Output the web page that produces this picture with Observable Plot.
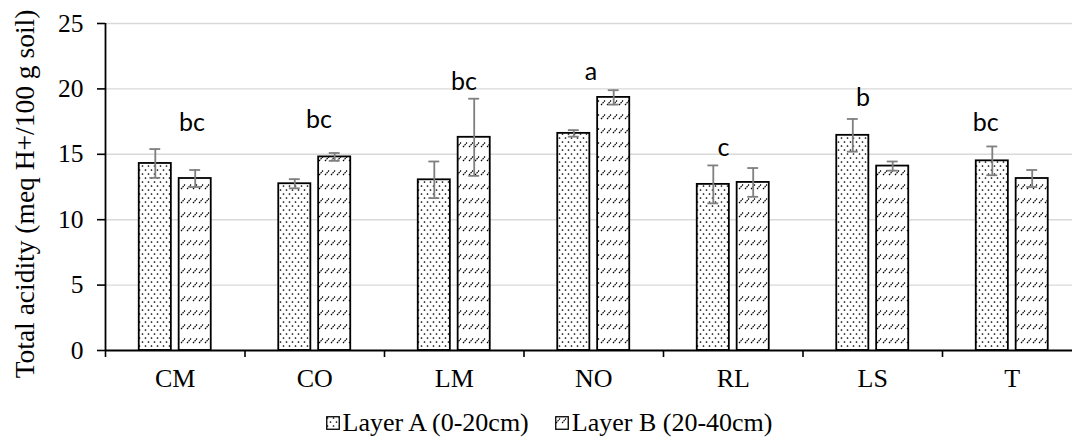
<!DOCTYPE html>
<html><head><meta charset="utf-8">
<script src="https://cdn.jsdelivr.net/npm/d3@7"></script>
<script src="https://cdn.jsdelivr.net/npm/@observablehq/plot@0.6"></script>
<style>
body{margin:0;background:#fff;width:1072px;height:439px;overflow:hidden;}
#legend{display:flex;justify-content:center;align-items:center;font-family:"Liberation Serif","Times New Roman",serif;font-size:26px;line-height:30px;color:#000;padding-left:26px;height:32px;margin-top:9px;}
.item{display:flex;align-items:center;margin:0 13px;}
.item svg{margin-right:3px;}
</style></head><body>
<svg width="0" height="0" style="position:absolute">
  <defs>
    <pattern id="pat-dots" patternUnits="userSpaceOnUse" width="6" height="8">
      <rect width="6" height="8" fill="#fff"/>
      <circle cx="1.5" cy="2" r="0.85" fill="#000"/>
      <circle cx="4.5" cy="6" r="0.85" fill="#000"/>
    </pattern>
    <pattern id="pat-hatch" patternUnits="userSpaceOnUse" width="6" height="14">
      <rect width="6" height="14" fill="#fff"/>
      <line x1="1" y1="7" x2="5" y2="2.5" stroke="#000" stroke-width="1.2" stroke-dasharray="1.6 0.7"/>
    </pattern>
  </defs>
</svg>
<div id="chart"></div>
<div id="legend"></div>
<script>
const categories = ["CM","CO","LM","NO","RL","LS","T"];
const layerNames = ["Layer A (0-20cm)", "Layer B (20-40cm)"];
const layerA = [14.3, 12.75, 13.05, 16.6, 12.7, 16.45, 14.5];
const errA   = [1.1, 0.35, 1.4, 0.25, 1.45, 1.25, 1.1];
const layerB = [13.15, 14.8, 16.3, 19.35, 12.85, 14.1, 13.15];
const errB   = [0.65, 0.3, 2.95, 0.55, 1.1, 0.35, 0.65];
const letters = ["bc","bc","bc","a","c","b","bc"];
const letterX = [0.62, 1.53, 2.57, 3.48, 4.43, 5.43, 6.31];
const letterY = [17.4, 17.6, 20.5, 21.3, 15.5, 19.3, 17.4];
const yTicks = [0,5,10,15,20,25];
const yTitle = "Total acidity (meq H+/100 g soil)";

const serif = "'Liberation Serif','Times New Roman',serif";
const fills = ["url(#pat-dots)", "url(#pat-hatch)"];
const centerOff = [0.357, 0.643];
const halfW = 0.115, capHalf = 0.039;

const rows = [];
categories.forEach((c, i) => {
  [layerA, layerB].forEach((arr, j) => {
    const e = j === 0 ? errA[i] : errB[i];
    rows.push({cat: c, i, layer: j, value: arr[i], err: e, c: i + centerOff[j]});
  });
});

const chart = Plot.plot({
  width: 1072, height: 398,
  marginLeft: 105, marginRight: -9.5, marginTop: 23, marginBottom: 48,
  x: {domain: [0, 7]},
  y: {domain: [0, 25]},
  style: {fontFamily: serif, fontSize: "25px", color: "#000", background: "#fff"},
  marks: [
    Plot.ruleY(yTicks.filter(d => d > 0), {stroke: "#d9d9d9", strokeWidth: 1.4}),
    Plot.axisY({ticks: yTicks, tickSize: 8, tickPadding: 14, label: null, tickFormat: d => String(d), strokeWidth: 1.6, fontFamily: serif, fontSize: 25.5}),
    Plot.axisX({ticks: d3.range(8), tickSize: 7, tickFormat: () => "", label: null, strokeWidth: 1.6}),
    Plot.axisX({ticks: categories.map((c, i) => i + 0.5), tickSize: 0, tickPadding: 18, tickFormat: v => categories[Math.floor(v)], label: null, fontFamily: serif, fontSize: 26}),
    Plot.rectY(rows, {x1: d => d.c - halfW, x2: d => d.c + halfW, y1: 0, y2: "value", fill: d => fills[d.layer], stroke: "#000", strokeWidth: 1.8}),
    Plot.ruleX(rows, {x: "c", y1: d => d.value - d.err, y2: d => d.value + d.err, stroke: "#7f7f7f", strokeWidth: 1.8}),
    Plot.ruleY(rows, {y: d => d.value + d.err, x1: d => d.c - capHalf, x2: d => d.c + capHalf, stroke: "#7f7f7f", strokeWidth: 1.8}),
    Plot.ruleY(rows, {y: d => d.value - d.err, x1: d => d.c - capHalf, x2: d => d.c + capHalf, stroke: "#7f7f7f", strokeWidth: 1.8}),
    Plot.ruleY([0], {stroke: "#000", strokeWidth: 1.8}),
    Plot.ruleX([0], {stroke: "#000", strokeWidth: 1.8}),
    Plot.text(letters, {x: (d, i) => letterX[i], y: (d, i) => letterY[i], text: d => d, fontFamily: "Lato, 'Open Sans', sans-serif", fontSize: 25, fill: "#000"}),
    Plot.text([yTitle], {frameAnchor: "left", rotate: -90, dx: -80, dy: 7, textAnchor: "middle", lineAnchor: "middle", fontFamily: serif, fontSize: 27.5, fill: "#000"})
  ]
});
document.getElementById("chart").appendChild(chart);

const legend = document.getElementById("legend");
layerNames.forEach((name, j) => {
  const item = document.createElement("div");
  item.className = "item";
  item.innerHTML = `<svg width="14" height="14"><rect x="0.75" y="0.75" width="12.5" height="12.5" fill="${fills[j]}" stroke="#000" stroke-width="1.3"/></svg><span>${name}</span>`;
  legend.appendChild(item);
});
</script>
</body></html>
